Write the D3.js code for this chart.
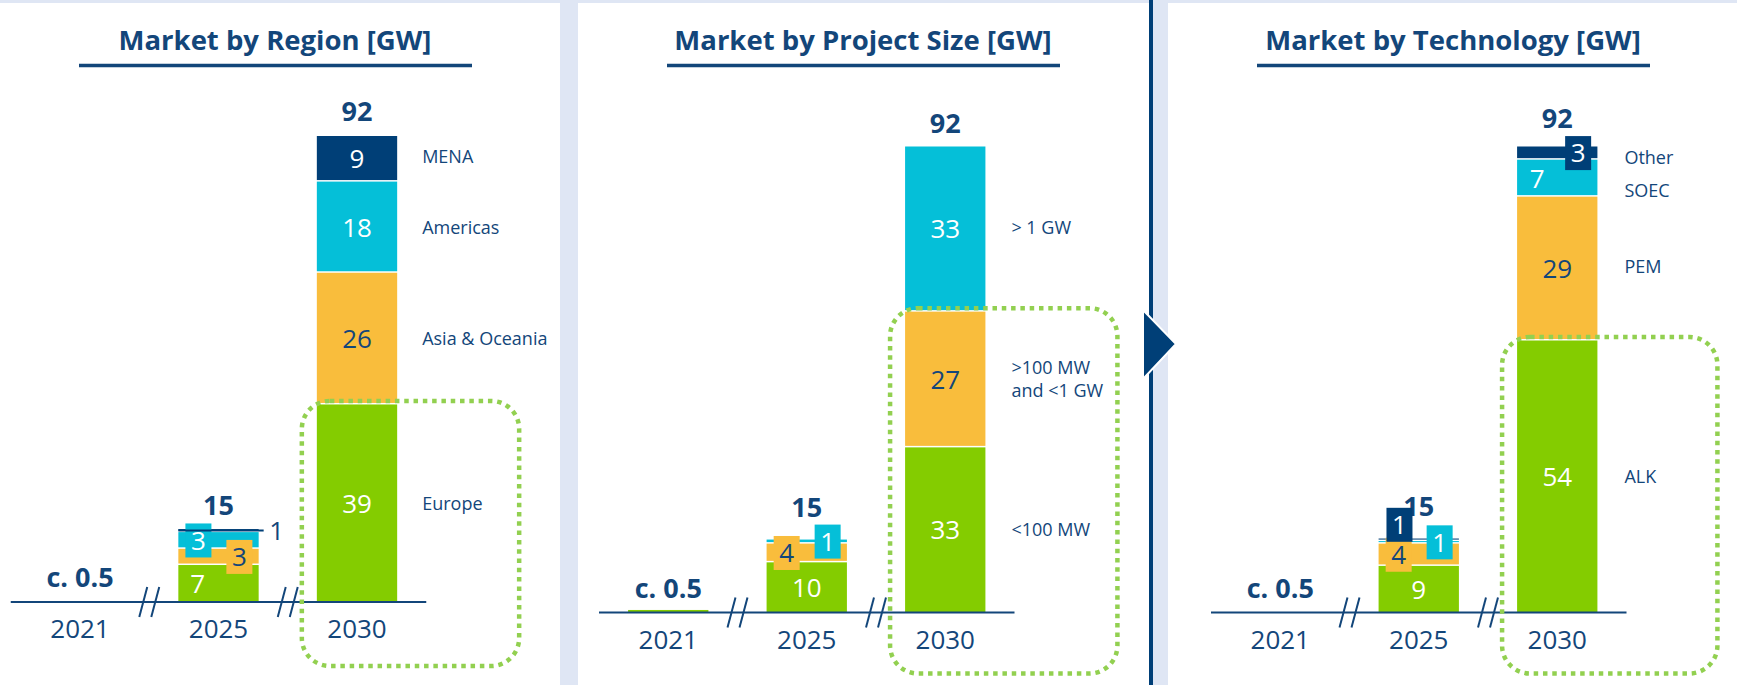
<!DOCTYPE html>
<html><head><meta charset="utf-8">
<script src="https://cdn.jsdelivr.net/npm/d3@7"></script>
<style>html,body{margin:0;padding:0;background:#dfe6f4;overflow:hidden}svg{display:block;font-family:"Open Sans",sans-serif}</style>
</head><body><svg id="c" width="1737" height="685"></svg>
<script>
// ---------------- data ----------------
const years = ["2021", "2025", "2030"];
const totalValues = [0.5, 15, 92];
const totalLabels = ["c. 0.5", "15", "92"];

const regionSeries = ["Europe", "Asia & Oceania", "Americas", "MENA"];
const region2025 = [7.3, 3.2, 3.3, 0.6];
const region2030 = [39, 26, 18, 9];
const regionText2025 = ["7", "3", "3", "1"];
const regionText2030 = ["39", "26", "18", "9"];

const sizeSeries = ["<100 MW", ">100 MW|and <1 GW", "> 1 GW"];
const size2021 = [0.5];
const size2025 = [9.9, 3.7, 0.8];
const size2030 = [32.6, 26.8, 32.6];
const sizeText2025 = ["10", "4", "1"];
const sizeText2030 = ["33", "27", "33"];

const techSeries = ["ALK", "PEM", "SOEC", "Other"];
const tech2025 = [9.2, 4.4, 0.5, 0.5];
const tech2030 = [53.7, 28.4, 7.3, 2.6];
const techText2025 = ["9", "4", "1", "1"];
const techText2030 = ["54", "29", "7", "3"];

const panelTitles = ["Market by Region [GW]", "Market by Project Size [GW]", "Market by Technology [GW]"];

// ---------------- styles ----------------
const C = {green:"#84cc00", orange:"#f9bd3c", cyan:"#05bfd8", navy:"#003f77", text:"#13467a", dot:"#92d050"};
const NUM = 26, BOLDNUM = 27, CAT = 18, TITLE = 27.5;

const panels = [
  { title: panelTitles[0], bg:[0, 560], x0: 10.75, base: 602, titleX: 275, ul:[79, 472],
    series: regionSeries, colors:[C.green, C.orange, C.cyan, C.navy],
    data: {"2025": region2025, "2030": region2030}, text: {"2025": regionText2025, "2030": regionText2030},
    lab2025: [{m:"in", dx:0.24}, {m:"box", dx:0.76}, {m:"box", dx:0.25}, {m:"lead"}],
    lab2030: [{m:"in"}, {m:"in"}, {m:"in"}, {m:"in"}],
    totalDy: [-22.5, -21, -25], catDx: 25, catNudge:[0,0,0,-2], hiCount: 1, hiRight: 122, hiBottom: 64 },
  { title: panelTitles[1], bg:[578, 1149], x0: 599, base: 612.5, titleX: 863, ul:[667, 1060],
    series: sizeSeries, colors:[C.green, C.orange, C.cyan],
    data: {"2021": size2021, "2025": size2025, "2030": size2030}, text: {"2025": sizeText2025, "2030": sizeText2030},
    lab2025: [{m:"in"}, {m:"box", dx:0.25}, {m:"box", dx:0.76}],
    lab2030: [{m:"in"}, {m:"in"}, {m:"in"}],
    totalDy: [-22, -29.5, -23.5], catDx: 26, catNudge:[0,0,-2], hiCount: 2, hiRight: 132, hiBottom: 61 },
  { title: panelTitles[2], bg:[1168, 1737], x0: 1211, base: 612.5, titleX: 1453, ul:[1257, 1650],
    series: techSeries, colors:[C.green, C.orange, C.cyan, C.navy],
    data: {"2025": tech2025, "2030": tech2030}, text: {"2025": techText2025, "2030": techText2030},
    lab2025: [{m:"in"}, {m:"box", dx:0.25}, {m:"box", dx:0.76}, {m:"box", dx:0.26, dy:-15}],
    lab2030: [{m:"in"}, {m:"in"}, {m:"in", dx:0.25}, {m:"box", dx:0.76}],
    totalDy: [-22, -30, -28.5], catDx: 27, catNudge:[0,-2,12,4], hiCount: 1, hiRight: 120, hiBottom: 61 }
];

const svg = d3.select("#c");
// backgrounds
panels.forEach(p => svg.append("rect").attr("x", p.bg[0]).attr("y", 3).attr("width", p.bg[1]-p.bg[0]).attr("height", 682).attr("fill", "#fff"));
svg.append("rect").attr("x", 1149).attr("y", 0).attr("width", 4).attr("height", 685).attr("fill", C.navy);

function textColor(col){ return col === C.orange ? C.text : "#fff"; }

panels.forEach(p => {
  const g = svg.append("g");
  const x = d3.scaleBand().domain(years).range([p.x0, p.x0 + 415.5]).paddingInner(0.42).paddingOuter(0.21);
  const y = d3.scaleLinear().domain([0, 92]).range([p.base, p.base - 466]);
  const bw = x.bandwidth();

  // title
  g.append("text").attr("x", p.titleX).attr("y", 40).attr("dy", "0.36em").attr("text-anchor", "middle")
    .attr("font-size", TITLE).attr("font-weight", 700).attr("fill", C.text).text(p.title);
  g.append("line").attr("x1", p.ul[0]).attr("x2", p.ul[1]).attr("y1", 65.5).attr("y2", 65.5)
    .attr("stroke", C.text).attr("stroke-width", 3.5);

  // bars
  const segInfo = {};
  Object.keys(p.data).forEach(yr => {
    const vals = p.data[yr];
    const cum = d3.cumsum(vals);
    segInfo[yr] = vals.map((v, i) => ({v, lo: cum[i]-v, hi: cum[i], i}));
    g.selectAll(null).data(segInfo[yr]).join("rect")
      .attr("x", x(yr)).attr("width", bw)
      .attr("y", d => y(d.hi))
      .attr("height", d => Math.max(1, y(d.lo) - y(d.hi) - (d.i > 0 ? 1.5 : 0)))
      .attr("fill", d => p.colors[d.i]);
  });

  // axis line + breaks
  g.append("line").attr("x1", p.x0).attr("x2", p.x0 + 415.5).attr("y1", p.base).attr("y2", p.base)
    .attr("stroke", C.text).attr("stroke-width", 2);
  [0, 1].forEach(k => {
    const bx = (x(years[k]) + bw/2 + x(years[k+1]) + bw/2) / 2;
    [-6, 6].forEach(o => g.append("line")
      .attr("x1", bx + o - 4).attr("y1", p.base + 15).attr("x2", bx + o + 4).attr("y2", p.base - 15)
      .attr("stroke", C.text).attr("stroke-width", 2));
  });

  // year labels
  g.selectAll(null).data(years).join("text")
    .attr("x", d => x(d) + bw/2).attr("y", p.base + 27).attr("dy", "0.36em").attr("text-anchor", "middle")
    .attr("font-size", NUM).attr("fill", C.text).text(d => d);

  // totals
  g.selectAll(null).data(years).join("text")
    .attr("x", d => x(d) + bw/2).attr("y", (d, i) => y(totalValues[i]) + p.totalDy[i]).attr("dy", "0.36em")
    .attr("text-anchor", "middle").attr("font-size", BOLDNUM).attr("font-weight", 700).attr("fill", C.text)
    .text((d, i) => totalLabels[i]);

  // segment labels
  ["2025", "2030"].forEach(yr => {
    const specs = yr === "2025" ? p.lab2025 : p.lab2030;
    segInfo[yr].forEach((s, i) => {
      const sp = specs[i];
      const col = p.colors[i];
      const cy = (y(s.lo) + y(s.hi)) / 2 + (sp.dy || 0);
      const t = p.text[yr][i];
      if (sp.m === "lead") {
        g.append("line").attr("x1", x(yr)).attr("x2", x(yr) + bw + 5).attr("y1", cy).attr("y2", cy)
          .attr("stroke", col).attr("stroke-width", 2);
        g.append("text").attr("x", x(yr) + bw + 18).attr("y", cy).attr("dy", "0.36em").attr("text-anchor", "middle")
          .attr("font-size", NUM).attr("fill", C.text).text(t);
      } else {
        const cx = x(yr) + bw * (sp.dx === undefined ? 0.5 : sp.dx);
        if (sp.m === "box") {
          g.append("rect").attr("x", cx - 13).attr("y", cy - 17).attr("width", 26).attr("height", 34).attr("fill", col);
        }
        g.append("text").attr("x", cx).attr("y", cy).attr("dy", "0.36em").attr("text-anchor", "middle")
          .attr("font-size", NUM).attr("fill", textColor(col)).text(t);
      }
    });
  });

  // category labels
  segInfo["2030"].forEach((s, i) => {
    const cy = (y(s.lo) + y(s.hi)) / 2 + p.catNudge[i];
    const lines = p.series[i].split("|");
    const t = g.append("text").attr("x", x("2030") + bw + p.catDx).attr("font-size", CAT).attr("fill", C.text);
    lines.forEach((ln, k) => t.append("tspan").attr("x", x("2030") + bw + p.catDx)
      .attr("y", cy + (k - (lines.length - 1) / 2) * 23).attr("dy", "0.36em").text(ln));
  });

  // dotted highlight box
  const hiTop = y(d3.sum(p.data["2030"].slice(0, p.hiCount)));
  g.append("rect").attr("x", x("2030") - 15).attr("y", hiTop - 3.5)
    .attr("width", bw + 15 + p.hiRight).attr("height", p.base + p.hiBottom - hiTop + 3.5)
    .attr("rx", 28).attr("ry", 28).attr("fill", "none")
    .attr("stroke", C.dot).attr("stroke-width", 4.5).attr("stroke-dasharray", "4.5 4.8");
});

// chevron arrow
svg.append("path").attr("d", "M1143,310 L1176,344 L1143,379 Z").attr("fill", C.navy).attr("stroke", "#fff").attr("stroke-width", 2);
</script></body></html>
